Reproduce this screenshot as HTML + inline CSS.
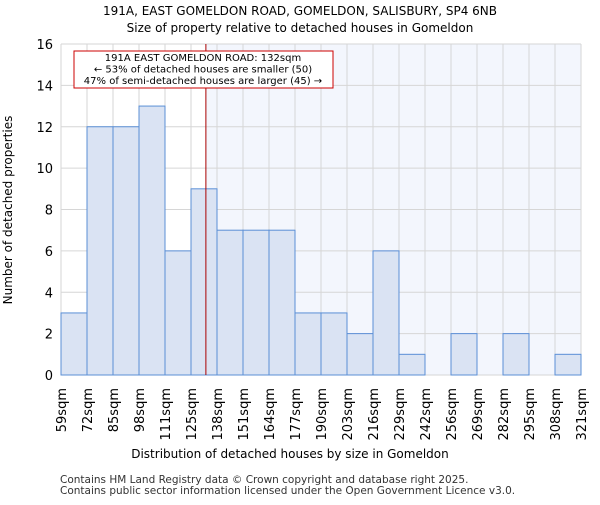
<!DOCTYPE html>
<html><head><meta charset="utf-8"><style>body{margin:0;background:#fff}svg{font-family:"DejaVu Sans","Liberation Sans",sans-serif}</style></head>
<body>
<svg width="600" height="500" xmlns="http://www.w3.org/2000/svg">
<text x="300" y="15" text-anchor="middle" font-size="12">191A, EAST GOMELDON ROAD, GOMELDON, SALISBURY, SP4 6NB</text>
<text x="300" y="32" text-anchor="middle" font-size="12">Size of property relative to detached houses in Gomeldon</text>
<g id="plot"></g>
<text x="290" y="458" text-anchor="middle" font-size="12">Distribution of detached houses by size in Gomeldon</text>
<text transform="translate(12,210) rotate(-90)" text-anchor="middle" font-size="12">Number of detached properties</text>
<text x="60" y="483" font-size="10.5" fill="#333">Contains HM Land Registry data © Crown copyright and database right 2025.</text>
<text x="60" y="494" font-size="10.5" fill="#333">Contains public sector information licensed under the Open Government Licence v3.0.</text>
</svg>
<script>
const categories=["59sqm","72sqm","85sqm","98sqm","111sqm","125sqm","138sqm","151sqm","164sqm","177sqm","190sqm","203sqm","216sqm","229sqm","242sqm","256sqm","269sqm","282sqm","295sqm","308sqm","321sqm"];
const counts=[3,12,12,13,6,9,7,7,7,3,3,2,6,1,0,2,0,2,0,1];
const yTicks=[0,2,4,6,8,10,12,14,16];
const binStart=59, binWidth=13.1, markerValue=132;
const L=61,R=581,T=44,B=375,yMax=16;
const NS="http://www.w3.org/2000/svg";
const g=document.getElementById('plot');
const bw=(R-L)/counts.length;
const xi=i=>L+i*bw;
const xv=v=>L+(v-binStart)/binWidth*bw;
const y=v=>B-(v/yMax)*(B-T);
function el(t,a,p){const e=document.createElementNS(NS,t);for(const k in a)e.setAttribute(k,a[k]);(p||g).appendChild(e);return e;}
const mx=xv(markerValue);
const hl=el('rect',{x:mx,y:T,width:R-mx,height:B-T,fill:'#f3f6fd'});


yTicks.forEach(t=>{const l=el('line',{x1:L,x2:R,y1:y(t),y2:y(t),stroke:'#d6d6d6','stroke-width':1});


const tx=el('text',{x:L-8,y:y(t)+5,'text-anchor':'end','font-size':13});tx.textContent=t;

});
categories.forEach((c,i)=>{const l=el('line',{x1:xi(i),x2:xi(i),y1:T,y2:B,stroke:'#d6d6d6','stroke-width':1});


const tx=el('text',{transform:`translate(${xi(i)+5},388) rotate(-90)`,'text-anchor':'end','font-size':13});tx.textContent=c;

});
counts.forEach((v,i)=>{if(v<=0)return;const r=el('rect',{x:xi(i),y:y(v),width:bw,height:B-y(v),fill:'#dae3f3',stroke:'#5b8fd6','stroke-width':1});

});
const ml=el('line',{x1:mx,x2:mx,y1:T,y2:B,stroke:'#a00','stroke-width':1});


const box=el('rect',{x:74,y:51,width:259,height:37,fill:'#fff',stroke:'#c00','stroke-width':1});


["191A EAST GOMELDON ROAD: 132sqm","← 53% of detached houses are smaller (50)","47% of semi-detached houses are larger (45) →"].forEach((s,i)=>{const t=el('text',{x:203,y:61+i*11.5,'text-anchor':'middle','font-size':10});t.textContent=s;

});
</script>
</body></html>
